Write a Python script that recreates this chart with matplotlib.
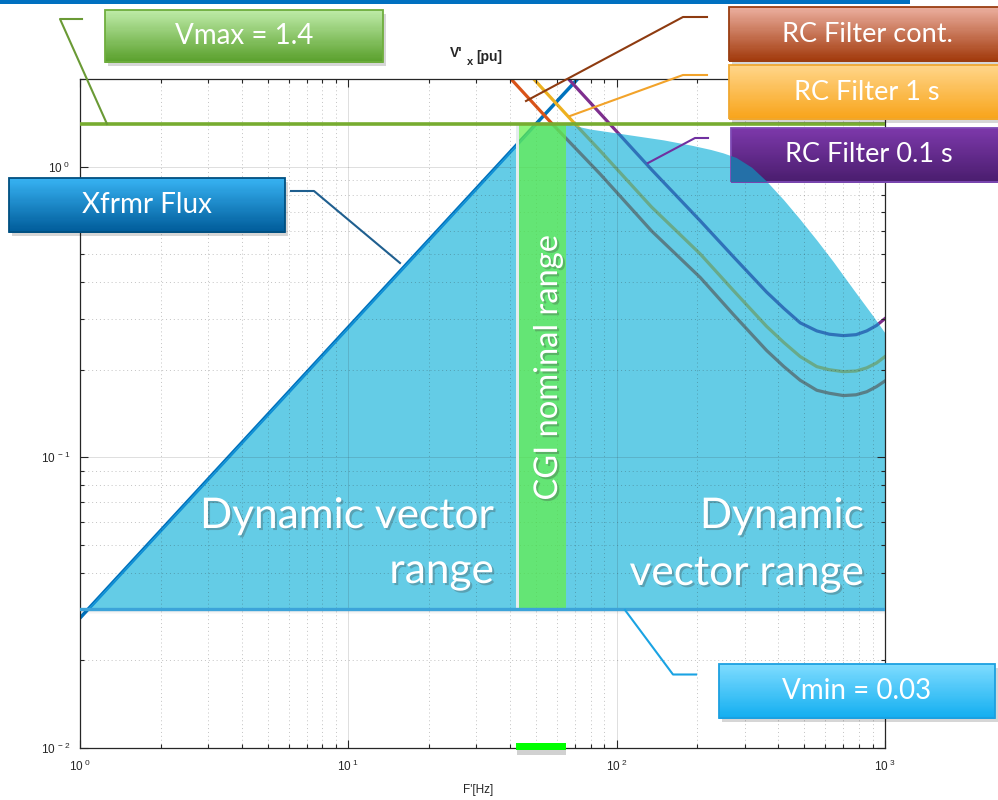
"""Operating envelope of the CGI vector: transformer flux limit vs. RC filter curves."""
import numpy as np
import matplotlib
matplotlib.use("Agg")
import matplotlib.pyplot as plt
import matplotlib.patheffects as pe
from matplotlib.patches import Rectangle, Polygon
from matplotlib.lines import Line2D
from matplotlib.colors import to_rgb
from matplotlib.ticker import FixedLocator, LogLocator, FuncFormatter, NullFormatter

plt.rcParams["font.family"] = ["Liberation Sans", "DejaVu Sans"]
plt.rcParams["mathtext.fontset"] = "custom"
plt.rcParams["mathtext.rm"] = "Liberation Sans"
plt.rcParams["mathtext.bf"] = "Liberation Sans:bold"
plt.rcParams["mathtext.it"] = "Liberation Sans:italic"

W, H = 998, 800

# ---------------------------------------------------------------- data
VMAX = 1.4
VMIN = 0.03
CGI_F = [42.0, 64.5]                       # nominal CGI frequency range (Hz)

flux_f = [1.0, 50.0, 71.5]
flux_v = [0.028, 1.4, 2.0]

cont_f = [40.6, 58.0, 87.0, 135.0, 205.0, 272.0, 362.0, 420.0, 483.0, 557.0,
          620.0, 700.0, 780.0, 855.0, 930.0, 1000.0]
cont_v = [1.99, 1.39, 0.94, 0.60, 0.415, 0.31, 0.233, 0.205, 0.184, 0.170,
          0.166, 0.163, 0.164, 0.168, 0.175, 0.183]

rc1_f = [49.3, 70.5, 87.0, 135.0, 205.0, 272.0, 362.0, 420.0, 483.0, 557.0,
         620.0, 700.0, 780.0, 855.0, 930.0, 1000.0]
rc1_v = [1.99, 1.39, 1.13, 0.725, 0.50, 0.375, 0.282, 0.248, 0.222, 0.205,
         0.200, 0.197, 0.198, 0.203, 0.211, 0.222]

rc01_f = [66.5, 95.0, 135.0, 205.0, 272.0, 362.0, 420.0, 483.0, 557.0, 620.0,
          700.0, 780.0, 855.0, 930.0, 1000.0]
rc01_v = [1.99, 1.39, 0.975, 0.65, 0.49, 0.37, 0.325, 0.29, 0.272, 0.265,
          0.262, 0.264, 0.272, 0.284, 0.30]

# upper edge of the dynamic vector range
range_f = [1.071, 50.0, 64.5, 80.0, 106.0, 150.0, 190.0, 225.0, 250.0, 280.0,
           320.0, 362.0, 420.0, 483.0, 560.0, 643.0, 763.0, 906.0, 1000.0]
range_v = [0.03, 1.4, 1.4, 1.34, 1.29, 1.23, 1.18, 1.14, 1.11, 1.07,
           0.99, 0.89, 0.767, 0.658, 0.555, 0.47, 0.378, 0.305, 0.268]

C_FLUX, C_CONT, C_1S, C_01S = "#0072BD", "#D95319", "#EDB120", "#7E2F8E"
# the same curves as they look seen through the cyan range fill
C_FLUX_IN, C_CONT_IN, C_1S_IN, C_01S_IN = "#0E8FD6", "#587F88", "#68AA8A", "#2F72B9"
C_FILL = "#64CCE6"


def fx(x):
    return x / W


def fy(y):
    return 1 - y / H


fig = plt.figure(figsize=(W / 100, H / 100), dpi=100)
ax = fig.add_axes([fx(80), 52 / H, 805 / W, 669 / H])
ax.set_xscale("log")
ax.set_yscale("log")
ax.set_xlim(1, 1000)
ax.set_ylim(0.01, 2.0)
ax.set_axisbelow(False)

# grid + ticks, MATLAB look
ax.grid(True, which="major", color="#262626", alpha=0.15, lw=0.7, ls="-")
ax.grid(True, which="minor", color="#262626", alpha=0.28, lw=0.7, ls=(0, (1, 3)))
ax.xaxis.set_major_locator(FixedLocator([1, 10, 100, 1000]))
ax.yaxis.set_major_locator(FixedLocator([0.01, 0.1, 1]))
ax.xaxis.set_minor_locator(LogLocator(base=10, subs=np.arange(2, 10)))
ax.yaxis.set_minor_locator(LogLocator(base=10, subs=np.arange(2, 10)))
fmt = FuncFormatter(lambda v, _: r"$\mathregular{10^{\ %d}}$" % round(np.log10(v)))
ax.xaxis.set_major_formatter(fmt)
ax.yaxis.set_major_formatter(fmt)
ax.xaxis.set_minor_formatter(NullFormatter())
ax.yaxis.set_minor_formatter(NullFormatter())
ax.tick_params(which="both", direction="in", top=True, right=True, colors="#262626",
               labelsize=8.5, width=0.8)
ax.tick_params(which="major", length=6)
ax.tick_params(which="minor", length=3)
ax.tick_params(axis="x", pad=8)
ax.tick_params(axis="y", pad=7)
for s in ax.spines.values():
    s.set_color("#262626")
    s.set_linewidth(0.9)

# curves in their own colours (only visible outside the fill)
ax.plot(flux_f, flux_v, color=C_FLUX, lw=2.5, zorder=1)
ax.plot(cont_f, cont_v, color=C_CONT, lw=2.3, zorder=1)
ax.plot(rc1_f, rc1_v, color=C_1S, lw=2.3, zorder=1)
ax.plot(rc01_f, rc01_v, color=C_01S, lw=2.3, zorder=1)

# soft shadow under the range floor
for k, a in enumerate([0.10, 0.07, 0.045, 0.025]):
    ax.fill_between([1, 1000], VMIN * 10 ** (-(k + 1) * 0.004), VMIN * 10 ** (-k * 0.004),
                    color="k", alpha=a, lw=0, zorder=1.5)

# dynamic vector range
verts = list(zip(range_f, range_v)) + [(range_f[-1], VMIN)]
area = Polygon(verts, closed=True, fc=C_FILL, ec="none", zorder=2)
ax.add_patch(area)

for f, v, c in [(flux_f, flux_v, C_FLUX_IN), (cont_f, cont_v, C_CONT_IN),
                (rc1_f, rc1_v, C_1S_IN), (rc01_f, rc01_v, C_01S_IN)]:
    ln, = ax.plot(f, v, color=c, lw=2.6 if c == C_FLUX_IN else 2.3, zorder=2.4)
    ln.set_clip_path(area)

# CGI nominal band
edge = CGI_F[0] * 1.03
ax.fill_between([CGI_F[0], edge], VMIN, VMAX, color="#E4ECEE", lw=0, zorder=2.55)
ax.fill_between([edge, CGI_F[1]], VMIN, VMAX, color="#64F04A", alpha=0.72, lw=0, zorder=2.6)

# band marker on the frequency axis
xb = ax.get_xaxis_transform()
ax.add_patch(Rectangle((CGI_F[0] * 1.01, -0.011), CGI_F[1] - CGI_F[0] * 1.01, 0.011,
                       transform=xb, fc="#000000", alpha=0.18, lw=0, clip_on=False, zorder=5))
ax.add_patch(Rectangle((CGI_F[0], -0.003), CGI_F[1] - CGI_F[0], 0.011,
                       transform=xb, fc="#00FF00", lw=0, clip_on=False, zorder=6))

ax.axhline(VMAX, color="#77AC30", lw=2.6, zorder=4)
ax.axhline(VMIN, color="#3CA3D9", lw=2.4, zorder=4)


# ---------------------------------------------------------------- callouts
def gradient_box(x0, y0, x1, y1, top, bottom, edge_c, z, n=48, shadow=True):
    w, h = (x1 - x0) / W, (y1 - y0) / H
    if shadow:
        ax.add_patch(Rectangle((fx(x0 + 3), fy(y1 + 4)), w, h, transform=fig.transFigure,
                               fc="k", alpha=0.16, lw=0, clip_on=False, zorder=z - 0.05))
    t0, t1 = np.array(to_rgb(top)), np.array(to_rgb(bottom))
    for i in range(n):
        t = i / (n - 1)
        c = (1 - t) * t0 + t * t1
        ys = y0 + (y1 - y0) * i / n
        ax.add_patch(Rectangle((fx(x0), fy(ys + (y1 - y0) / n + 0.6)), w,
                               ((y1 - y0) / n + 0.6) / H, transform=fig.transFigure,
                               fc=c, lw=0, clip_on=False, zorder=z))
    box = Rectangle((fx(x0), fy(y1)), w, h, transform=fig.transFigure, fill=False,
                    ec=edge_c, lw=1.3, clip_on=False, zorder=z + 0.01)
    ax.add_patch(box)
    return box


def callout(pts, color, z=6.5):
    ax.add_line(Line2D([fx(p[0]) for p in pts], [fy(p[1]) for p in pts],
                       transform=fig.transFigure, color=color, lw=1.5,
                       clip_on=False, zorder=z))


def label(x, y, s, size, z, **kw):
    ax.text(fx(x), fy(y), s, transform=fig.transFigure, color="white", fontsize=size,
            family=["Lato", "DejaVu Sans"], zorder=z, **kw)


shadow_fx = [pe.withSimplePatchShadow(offset=(1.5, -1.5), shadow_rgbFace="#404040", alpha=0.3)]

gradient_box(105, 10, 383, 62, "#BEEBA8", "#5AA02C", "#6FAE3E", 7)
label(244, 36, "Vmax = 1.4", 20, 7.2, ha="center", va="center")
callout([(82, 19), (60, 19), (107, 124)], "#6A9A35")

gradient_box(9, 178, 285, 232, "#37B2F2", "#005C9A", "#004F80", 7)
label(147, 205, "Xfrmr Flux", 20, 7.2, ha="center", va="center")
callout([(291, 191), (314, 191), (400, 263)], "#1F5F8F")

gradient_box(729, 7, 1000, 61, "#EBAE9E", "#A23A0C", "#9A3E12", 7)
label(867, 34, "RC Filter cont.", 19.5, 7.2, ha="center", va="center")
callout([(707, 17), (683, 17), (526, 101)], "#8E3B10")

gradient_box(729, 65, 1000, 119, "#FFD589", "#F8A41A", "#F0A830", 7.5)
label(867, 92, "RC Filter 1 s", 19.5, 7.7, ha="center", va="center")
callout([(707, 75), (683, 75), (570, 116)], "#F2A32A")

pbox = gradient_box(731, 128, 1000, 182, "#7C38AA", "#4A1D6E", "#7E4AB5", 3.5, shadow=False)
# the range fill lies over the lower-left corner of this box
over = Polygon(verts, closed=True, fc="#2470A8", ec="none", zorder=3.6)
ax.add_patch(over)
over.set_clip_path(pbox)
label(869, 155, "RC Filter 0.1 s", 19.5, 3.8, ha="center", va="center")
callout([(708, 138), (695, 138), (648, 163)], "#7030A0")

gradient_box(719, 664, 995, 718, "#7EDCFF", "#13AEF0", "#1CA0E0", 7)
label(857, 691, "Vmin = 0.03", 20, 7.2, ha="center", va="center")
callout([(625, 610), (673, 674.5), (696, 674.5)], "#1AA3E3")

# region labels
label(494, 528, "Dynamic vector", 30.5, 5, ha="right", va="baseline", path_effects=shadow_fx)
label(494, 583, "range", 30.5, 5, ha="right", va="baseline", path_effects=shadow_fx)
label(864, 528, "Dynamic", 30.5, 5, ha="right", va="baseline", path_effects=shadow_fx)
label(864, 585, "vector range", 30.5, 5, ha="right", va="baseline", path_effects=shadow_fx)
label(548, 368, "CGI nominal range", 23.5, 5, ha="center", va="center", rotation=90,
      path_effects=shadow_fx)

# axis titles
ink = "#262626"
fig.text(fx(450), fy(57), "V'", ha="left", va="baseline", fontsize=10,
         fontweight="bold", color=ink)
fig.text(fx(467), fy(65), "x", ha="left", va="baseline", fontsize=8,
         fontweight="bold", color=ink)
fig.text(fx(476), fy(61), "[pu]", ha="left", va="baseline", fontsize=10,
         fontweight="bold", color=ink)
fig.text(fx(478), fy(790), "F'[Hz]", ha="center", va="center", fontsize=8.5, color=ink)

# slide header rule
fig.add_artist(Rectangle((0, fy(3.5)), 910 / W, 3.5 / H, transform=fig.transFigure,
                         fc="#0070C0", lw=0))

fig.savefig("out.png", dpi=100)
